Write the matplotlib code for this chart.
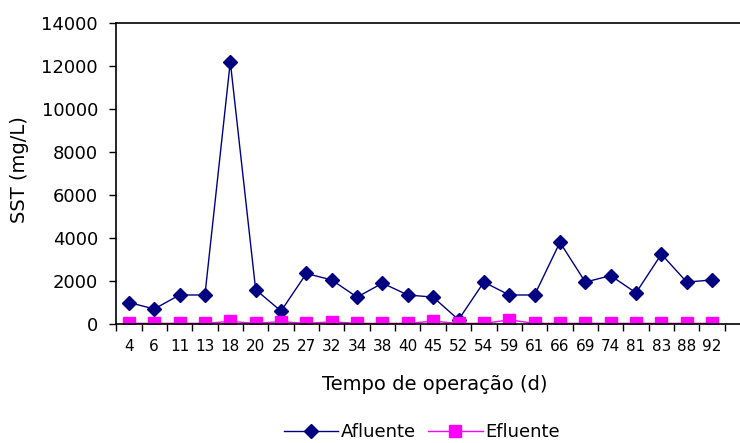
import matplotlib
matplotlib.use("Agg")
import matplotlib.pyplot as plt
import numpy as np

plt.rcParams['font.family'] = ['DejaVu Sans']

dias = ["4", "6", "11", "13", "18", "20", "25", "27", "32", "34", "38", "40",
        "45", "52", "54", "59", "61", "66", "69", "74", "81", "83", "88", "92"]
afluente = [1000, 700, 1350, 1350, 12200, 1600, 600, 2350, 2050, 1250, 1900, 1350,
            1250, 200, 1950, 1350, 1350, 3800, 1950, 2250, 1450, 3250, 1950, 2050]
efluente = [30, 30, 30, 30, 120, 30, 110, 30, 100, 30, 30, 30,
            130, 30, 30, 190, 30, 30, 30, 30, 30, 30, 30, 30]
yticks = [0, 2000, 4000, 6000, 8000, 10000, 12000, 14000]

fig = plt.figure(figsize=(7.4, 4.43), dpi=100)
ax = fig.add_axes([0.157, 0.2686, 0.843, 0.6794])

x = np.arange(len(dias))
ax.plot(x, afluente, color='#000080', lw=1, marker='D', markersize=6.8,
        markerfacecolor='#000080', markeredgecolor='#000080', label='Afluente')
ax.plot(x, efluente, color='#FF00FF', lw=1, marker='s', markersize=8,
        markerfacecolor='#FF00FF', markeredgecolor='#FF00FF', label='Efluente')

ax.set_ylim(0, 14000)
ax.set_yticks(yticks)
ax.set_yticklabels([str(v) for v in yticks], fontsize=13)
ax.set_xlim(-0.5, 24.1)
ax.set_xticks(np.arange(-0.5, len(dias), 1.0))
ax.set_xticklabels([])
ax.set_xticks(x, minor=True)
ax.set_xticklabels(dias, minor=True, fontsize=11)
ax.tick_params(axis='x', which='minor', length=0, pad=11)
ax.tick_params(axis='x', which='major', direction='out', length=5, width=1)
ax.tick_params(axis='y', direction='out', length=5, width=1, pad=8)

ax.spines['right'].set_visible(False)
for s in ['left', 'bottom', 'top']:
    ax.spines[s].set_linewidth(1.2)
    ax.spines[s].set_color('black')

fig.text(20 / 740, 1 - 170 / 443, 'SST (mg/L)', rotation=90, fontsize=14,
         ha='center', va='center')
fig.text(435 / 740, 1 - 384 / 443, 'Tempo de operação (d)', fontsize=14,
         ha='center', va='center')

fig.legend(loc='center', bbox_to_anchor=(0.57, 0.024), ncol=2, frameon=False,
           fontsize=13, handlelength=3.0, columnspacing=0.7, handletextpad=0.15)

fig.savefig('out.png', dpi=100)
